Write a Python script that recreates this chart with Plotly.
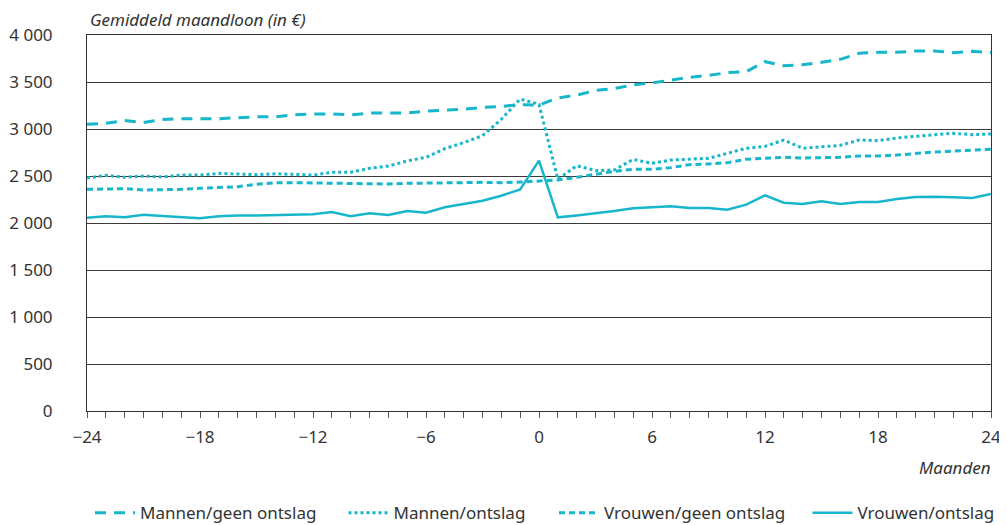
import plotly.graph_objects as go

months = list(range(-24, 25))

mannen_geen = [3050, 3060, 3090, 3070, 3100, 3110, 3110, 3110, 3120, 3130, 3130, 3150, 3160,
               3160, 3150, 3170, 3170, 3170, 3190, 3200, 3210, 3230, 3240, 3260, 3255,
               3330, 3360, 3410, 3430, 3470, 3490, 3520, 3550, 3570, 3600, 3610, 3716,
               3673, 3684, 3709, 3741, 3805, 3816, 3816, 3830, 3830, 3812, 3826, 3812]
mannen_ontslag = [2479, 2507, 2486, 2500, 2489, 2510, 2510, 2528, 2521, 2514, 2524, 2514, 2510,
                  2539, 2539, 2582, 2606, 2660, 2699, 2791, 2855, 2929, 3103, 3319, 3263,
                  2465, 2610, 2557, 2564, 2677, 2635, 2670, 2677, 2688, 2741, 2795, 2815,
                  2883, 2795, 2812, 2826, 2883, 2876, 2904, 2926, 2940, 2954, 2940, 2947]
vrouwen_geen = [2358, 2365, 2365, 2351, 2351, 2358, 2369, 2380, 2386, 2411, 2429, 2429, 2425,
                2422, 2419, 2419, 2415, 2422, 2422, 2426, 2429, 2433, 2429, 2436, 2447,
                2457, 2486, 2521, 2550, 2571, 2571, 2589, 2621, 2628, 2642, 2677, 2684,
                2699, 2692, 2695, 2699, 2713, 2713, 2723, 2741, 2755, 2766, 2777, 2784]
vrouwen_ontslag = [2056, 2071, 2060, 2088, 2074, 2060, 2050, 2071, 2081, 2081, 2085, 2096, 2094,
                   2117, 2071, 2103, 2085, 2128, 2110, 2167, 2199, 2237, 2290, 2358, 2663,
                   2060, 2081, 2103, 2128, 2156, 2167, 2177, 2160, 2160, 2142, 2195, 2294,
                   2216, 2202, 2231, 2202, 2223, 2223, 2255, 2277, 2280, 2273, 2266, 2308]

series_names = ["Mannen/geen ontslag", "Mannen/ontslag", "Vrouwen/geen ontslag", "Vrouwen/ontslag"]

x_tickvals = [-24, -18, -12, -6, 0, 6, 12, 18, 24]
x_ticktext = ["\u221224", "\u221218", "\u221212", "\u22126", "0", "6", "12", "18", "24"]
y_tickvals = [0, 500, 1000, 1500, 2000, 2500, 3000, 3500, 4000]
y_ticktext = ["0", "500", "1 000", "1 500", "2 000", "2 500", "3 000", "3 500", "4 000"]

COLOR = "#17b6cb"
FONT = "Noto Sans"
TXT = "#333333"
FS = 17

fig = go.Figure()
styles = [
    dict(dash="11px,8px", width=3),
    dict(dash="3px,3px", width=3),
    dict(dash="6px,4px", width=3),
    dict(dash="solid", width=2.5),
]
data = [mannen_geen, mannen_ontslag, vrouwen_geen, vrouwen_ontslag]
legends = ["legend", "legend2", "legend3", "legend4"]
for name, vals, st, lg in zip(series_names, data, styles, legends):
    fig.add_trace(go.Scatter(
        x=months, y=vals, mode="lines", name=name,
        line=dict(color=COLOR, width=st["width"], dash=st["dash"]),
        legend=lg, hoverinfo="skip",
    ))

# page body has an 8px margin; plot area spans window px 87..991 horizontally
def px_to_paper_x(px):
    return (px - 87) / 904.0

leg_common = dict(orientation="h", yanchor="middle", y=-0.272, xanchor="left",
                  font=dict(family=FONT, size=FS, color=TXT), itemwidth=40,
                  bgcolor="rgba(0,0,0,0)")
fig.update_layout(
    width=999, height=517,
    margin=dict(l=79, r=16, t=27, b=114, autoexpand=False),
    paper_bgcolor="white", plot_bgcolor="white",
    font=dict(family=FONT, size=FS, color=TXT),
    showlegend=True,
    legend=dict(x=px_to_paper_x(90), **leg_common),
    legend2=dict(x=px_to_paper_x(343.5), **leg_common),
    legend3=dict(x=px_to_paper_x(554), **leg_common),
    legend4=dict(x=px_to_paper_x(807.5), **leg_common),
    xaxis=dict(
        range=[-24, 24], tickvals=x_tickvals, ticktext=x_ticktext,
        ticks="outside", ticklen=6, tickwidth=1, tickcolor="#555555",
        minor=dict(dtick=1, tick0=0, ticks="outside", ticklen=6, tickwidth=1, tickcolor="#555555", showgrid=False),
        showgrid=False, zeroline=False, automargin=False,
        showline=True, linecolor="#333333", linewidth=1, mirror=True,
        tickfont=dict(family=FONT, size=FS, color=TXT),
        ticklabelstandoff=5,
    ),
    yaxis=dict(
        range=[0, 4000], tickvals=y_tickvals, ticktext=y_ticktext,
        ticks="", showgrid=True, gridcolor="#3a3a3a", gridwidth=1,
        zeroline=False, showline=True, linecolor="#333333", linewidth=1, mirror=True,
        tickfont=dict(family=FONT, size=FS, color=TXT), automargin=False,
        ticklabelstandoff=30,
    ),
    annotations=[
        dict(text="<i>Gemiddeld maandloon (in €)</i>", xref="paper", yref="paper",
             x=0.0, y=1.0, xanchor="left", yanchor="bottom", yshift=2, xshift=1, showarrow=False,
             font=dict(family=FONT, size=FS, color=TXT)),
        dict(text="<i>Maanden</i>", xref="paper", yref="paper",
             x=1.0, y=0, xanchor="right", yanchor="top", yshift=-43, xshift=2, showarrow=False,
             font=dict(family=FONT, size=FS, color=TXT)),
    ],
)

fig.write_html("out.html")
